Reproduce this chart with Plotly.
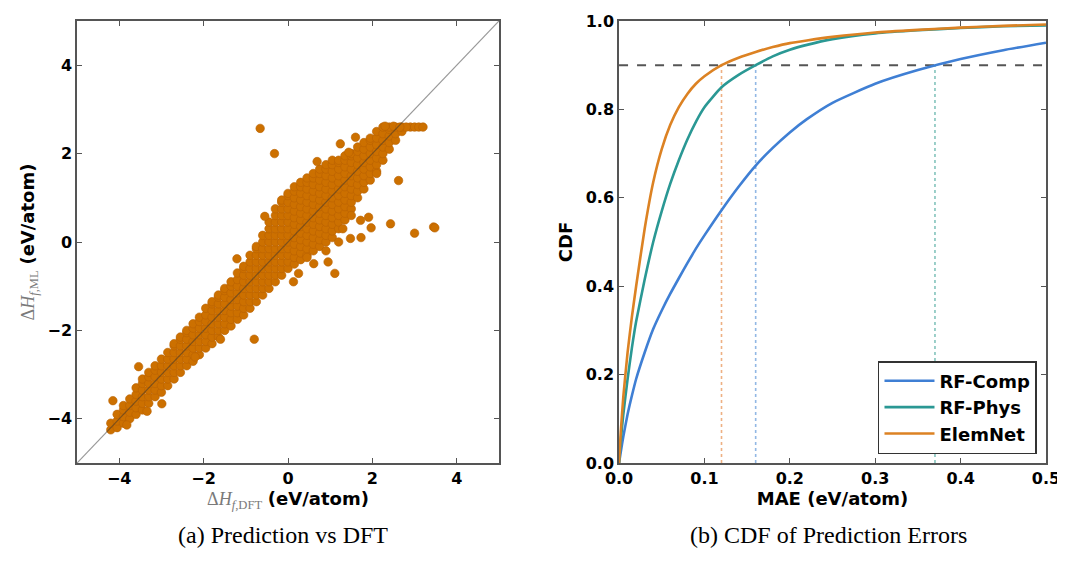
import plotly.graph_objects as go

# ---------------- (a) Prediction vs DFT : scatter data ----------------
band_cols = [-4.2, -4.05, -3.9, -3.75, -3.6, -3.45, -3.3, -3.15, -3.0, -2.85, -2.7, -2.55,
             -2.4, -2.25, -2.1, -1.95, -1.8, -1.65, -1.5, -1.35, -1.2, -1.05, -0.9, -0.75,
             -0.6, -0.45, -0.3, -0.15, 0.0, 0.15, 0.3, 0.45, 0.6, 0.75, 0.9, 1.05, 1.2,
             1.35, 1.5, 1.65, 1.8, 1.95, 2.1, 2.25, 2.4, 2.55, 2.7]
band_ml = [
    [-4.25, -4.1],
    [-4.2, -4.05, -3.9],
    [-4.1, -3.95, -3.8, -3.7],
    [-4.0, -3.85, -3.7, -3.55],
    [-3.9, -3.75, -3.6, -3.45, -3.3],
    [-3.8, -3.65, -3.5, -3.35, -3.2, -3.1],
    [-3.65, -3.5, -3.35, -3.2, -3.05, -2.95],
    [-3.5, -3.35, -3.2, -3.05, -2.9, -2.8],
    [-3.4, -3.25, -3.1, -2.95, -2.8, -2.65],
    [-3.25, -3.1, -2.95, -2.8, -2.65, -2.5],
    [-3.1, -2.95, -2.8, -2.65, -2.5, -2.35, -2.3],
    [-2.95, -2.8, -2.65, -2.5, -2.35, -2.2, -2.15],
    [-2.8, -2.65, -2.5, -2.35, -2.2, -2.05, -2.0],
    [-2.7, -2.55, -2.4, -2.25, -2.1, -1.95, -1.85],
    [-2.55, -2.4, -2.25, -2.1, -1.95, -1.8, -1.7],
    [-2.4, -2.25, -2.1, -1.95, -1.8, -1.65, -1.5],
    [-2.3, -2.15, -2.0, -1.85, -1.7, -1.55, -1.4, -1.35],
    [-2.15, -2.0, -1.85, -1.7, -1.55, -1.4, -1.25, -1.2],
    [-2.0, -1.85, -1.7, -1.55, -1.4, -1.25, -1.1, -1.05],
    [-1.9, -1.75, -1.6, -1.45, -1.3, -1.15, -1.0, -0.9],
    [-1.75, -1.6, -1.45, -1.3, -1.15, -1.0, -0.85, -0.7],
    [-1.65, -1.5, -1.35, -1.2, -1.05, -0.9, -0.75, -0.6, -0.55],
    [-1.5, -1.35, -1.2, -1.05, -0.9, -0.75, -0.6, -0.45, -0.3],
    [-1.35, -1.2, -1.05, -0.9, -0.75, -0.6, -0.45, -0.3, -0.15, -0.1],
    [-1.2, -1.05, -0.9, -0.75, -0.6, -0.45, -0.3, -0.15, 0.0, 0.15],
    [-1.05, -0.9, -0.75, -0.6, -0.45, -0.3, -0.15, 0.0, 0.15, 0.3, 0.45],
    [-0.9, -0.75, -0.6, -0.45, -0.3, -0.15, 0.0, 0.15, 0.3, 0.45, 0.6, 0.75],
    [-0.75, -0.6, -0.45, -0.3, -0.15, 0.0, 0.15, 0.3, 0.45, 0.6, 0.75, 0.9, 0.95],
    [-0.6, -0.45, -0.3, -0.15, 0.0, 0.15, 0.3, 0.45, 0.6, 0.75, 0.9, 1.05, 1.1],
    [-0.5, -0.35, -0.2, -0.05, 0.1, 0.25, 0.4, 0.55, 0.7, 0.85, 1.0, 1.15, 1.25],
    [-0.4, -0.25, -0.1, 0.05, 0.2, 0.35, 0.5, 0.65, 0.8, 0.95, 1.1, 1.25, 1.35],
    [-0.3, -0.15, 0.0, 0.15, 0.3, 0.45, 0.6, 0.75, 0.9, 1.05, 1.2, 1.35, 1.45],
    [-0.2, -0.05, 0.1, 0.25, 0.4, 0.55, 0.7, 0.85, 1.0, 1.15, 1.3, 1.45, 1.55],
    [-0.1, 0.05, 0.2, 0.35, 0.5, 0.65, 0.8, 0.95, 1.1, 1.25, 1.4, 1.55, 1.65],
    [0.0, 0.15, 0.3, 0.45, 0.6, 0.75, 0.9, 1.05, 1.2, 1.35, 1.5, 1.65, 1.75],
    [0.1, 0.25, 0.4, 0.55, 0.7, 0.85, 1.0, 1.15, 1.3, 1.45, 1.6, 1.75, 1.85],
    [0.3, 0.45, 0.6, 0.75, 0.9, 1.05, 1.2, 1.35, 1.5, 1.65, 1.8, 1.85],
    [0.5, 0.65, 0.8, 0.95, 1.1, 1.25, 1.4, 1.55, 1.7, 1.85, 1.95],
    [0.75, 0.9, 1.05, 1.2, 1.35, 1.5, 1.65, 1.8, 1.95, 2.0],
    [1.0, 1.15, 1.3, 1.45, 1.6, 1.75, 1.9, 2.05, 2.15],
    [1.2, 1.35, 1.5, 1.65, 1.8, 1.95, 2.1, 2.25],
    [1.4, 1.55, 1.7, 1.85, 2.0, 2.15, 2.3, 2.35],
    [1.6, 1.75, 1.9, 2.05, 2.2, 2.35, 2.5],
    [1.85, 2.0, 2.15, 2.3, 2.45, 2.6],
    [2.1, 2.25, 2.4, 2.55, 2.6],
    [2.3, 2.45, 2.6],
    [2.5, 2.6],
]
outlier_dft = [-0.66, -0.32, 0.69, 1.24, 1.6, 1.44, 2.62, 1.91, 2.43, 1.97, 3.0, 3.45, 3.48,
               1.73, 1.72, 1.11, 0.61, 0.13, 0.25, -1.21, -0.8, -3.34, -3.82, -2.99, -4.15,
               -3.54, -0.55, 2.9, 3.0, 3.1, 3.2, 2.5, 2.3, 1.48, 0.95, 2.1, 1.5, 0.9, 1.3,
               -1.6, -2.2, 0.45, 1.2, 2.8, 2.65]
outlier_ml = [2.57, 2.0, 1.82, 2.22, 2.37, 2.03, 1.39, 0.56, 0.41, 0.32, 0.2, 0.34, 0.32,
              0.1, 0.49, -0.71, -0.49, -0.9, -0.71, -0.38, -2.2, -3.83, -4.14, -3.66, -3.59,
              -2.82, 0.58, 2.6, 2.6, 2.6, 2.6, 2.62, 2.62, 0.08, -0.45, 1.55, 0.6, -0.2, 0.3,
              -2.2, -2.6, -0.35, 0.0, 2.6, 2.6]
diag = [-5, 5]

# ---------------- (b) CDF of prediction errors ----------------
mae = [0.0, 0.002, 0.005, 0.01, 0.015, 0.02, 0.03, 0.04, 0.05, 0.06, 0.07, 0.08, 0.09, 0.10,
       0.12, 0.14, 0.16, 0.18, 0.20, 0.22, 0.25, 0.30, 0.35, 0.40, 0.45, 0.50]
cdf_rf_comp = [0.0, 0.025, 0.06, 0.11, 0.152, 0.19, 0.25, 0.303, 0.345, 0.383, 0.418, 0.452,
               0.485, 0.515, 0.572, 0.625, 0.673, 0.713, 0.748, 0.778, 0.815, 0.858, 0.889,
               0.914, 0.934, 0.951]
cdf_rf_phys = [0.0, 0.05, 0.11, 0.19, 0.26, 0.32, 0.415, 0.50, 0.57, 0.632, 0.685, 0.732,
               0.772, 0.805, 0.85, 0.878, 0.90, 0.92, 0.935, 0.946, 0.959, 0.972, 0.979,
               0.984, 0.988, 0.990]
cdf_elemnet = [0.0, 0.07, 0.15, 0.25, 0.33, 0.40, 0.53, 0.635, 0.71, 0.765, 0.805, 0.835,
               0.858, 0.875, 0.90, 0.917, 0.93, 0.941, 0.95, 0.956, 0.964, 0.974, 0.980,
               0.985, 0.989, 0.992]
series_names = ["RF-Comp", "RF-Phys", "ElemNet"]
series_colors = ["#3f7fd4", "#2a9894", "#dc8223"]
threshold_level = 0.9
threshold_mae = [0.12, 0.16, 0.37]
threshold_colors = ["rgba(232,150,90,0.75)", "rgba(110,160,220,0.75)", "rgba(90,175,165,0.75)"]

# flatten band
sc_x, sc_y = [], []
for xv, ys in zip(band_cols, band_ml):
    for yv in ys:
        sc_x.append(xv)
        sc_y.append(yv)
sc_x += outlier_dft
sc_y += outlier_ml

fig = go.Figure()

fig.add_trace(go.Scatter(x=sc_x, y=sc_y, mode="markers", xaxis="x", yaxis="y",
                         marker=dict(size=8.5, color="#cc7000", line=dict(color="#b86200", width=0.6)),
                         showlegend=False))
fig.add_trace(go.Scatter(x=diag, y=diag, mode="lines", xaxis="x", yaxis="y",
                         line=dict(color="rgba(50,50,50,0.5)", width=1.2), showlegend=False))

for tm, tc in zip(threshold_mae, threshold_colors):
    fig.add_trace(go.Scatter(x=[tm, tm], y=[0, threshold_level], mode="lines", xaxis="x2", yaxis="y2",
                             line=dict(color=tc, width=1.6, dash="dot"), showlegend=False))
fig.add_trace(go.Scatter(x=[0, 0.5], y=[threshold_level, threshold_level], mode="lines",
                         xaxis="x2", yaxis="y2",
                         line=dict(color="#555555", width=2, dash="dash"), showlegend=False))

for name, col, vals in zip(series_names, series_colors, [cdf_rf_comp, cdf_rf_phys, cdf_elemnet]):
    fig.add_trace(go.Scatter(x=mae, y=vals, mode="lines", name=name, xaxis="x2", yaxis="y2",
                             line=dict(color=col, width=2.6, shape="spline", smoothing=0.5)))

axis_common = dict(showline=True, linecolor="#555555", linewidth=1.6, mirror="ticks",
                   ticks="inside", ticklen=5, tickwidth=1, tickcolor="#555555",
                   showgrid=False, zeroline=False, automargin=False,
                   tickfont=dict(family="DejaVu Sans", size=16, color="black", weight="bold"))

math_style = "font-family:'Liberation Serif';color:#7a7a7a"

# the page places the figure 8 px from the top-left corner, so the figure is 8 px smaller
fig.update_layout(
    width=1057, height=558,
    margin=dict(l=0, r=0, t=0, b=0),
    paper_bgcolor="white", plot_bgcolor="white",
    xaxis=dict(domain=[0.0653, 0.4645], range=[-5, 5], tickvals=[-4, -2, 0, 2, 4],
               title=dict(text=f"<span style=\"{math_style}\">Δ<i>H</i><sub><i>f</i>,DFT</sub></span> <b>(eV/atom)</b>",
                          font=dict(family="DejaVu Sans", size=18, color="black"), standoff=3),
               anchor="y", **axis_common),
    yaxis=dict(domain=[0.1846, 0.9767], range=[-5, 5], tickvals=[-4, -2, 0, 2, 4],
               title=dict(text=f"<span style=\"{math_style}\">Δ<i>H</i><sub><i>f</i>,ML</sub></span> <b>(eV/atom)</b>",
                          font=dict(family="DejaVu Sans", size=18, color="black"), standoff=8),
               anchor="x", **axis_common),
    xaxis2=dict(domain=[0.5781, 0.9820], range=[0, 0.5], tickvals=[0, 0.1, 0.2, 0.3, 0.4, 0.5],
                tickformat=".1f",
                title=dict(text="<b>MAE (eV/atom)</b>",
                           font=dict(family="DejaVu Sans", size=18, color="black"), standoff=3),
                anchor="y2", **axis_common),
    yaxis2=dict(domain=[0.1846, 0.9767], range=[0, 1], tickvals=[0, 0.2, 0.4, 0.6, 0.8, 1.0],
                tickformat=".1f",
                title=dict(text="<b>CDF</b>",
                           font=dict(family="DejaVu Sans", size=18, color="black"), standoff=8),
                anchor="x2", **axis_common),
    legend=dict(x=0.9735, y=0.2007, xanchor="right", yanchor="bottom",
                bgcolor="white", bordercolor="#333333", borderwidth=1.5,
                font=dict(family="DejaVu Sans", size=18, color="black", weight="bold"),
                tracegroupgap=0, itemwidth=50),
    annotations=[
        dict(text="(a) Prediction vs DFT", x=0.2602, y=0.0556, xref="paper", yref="paper",
             xanchor="center", yanchor="middle",
             showarrow=False, font=dict(family="Liberation Serif", size=24, color="black")),
        dict(text="(b) CDF of Prediction Errors", x=0.7758, y=0.0556, xref="paper", yref="paper",
             xanchor="center", yanchor="middle",
             showarrow=False, font=dict(family="Liberation Serif", size=24, color="black")),
    ],
)

fig.write_html("out.html")
